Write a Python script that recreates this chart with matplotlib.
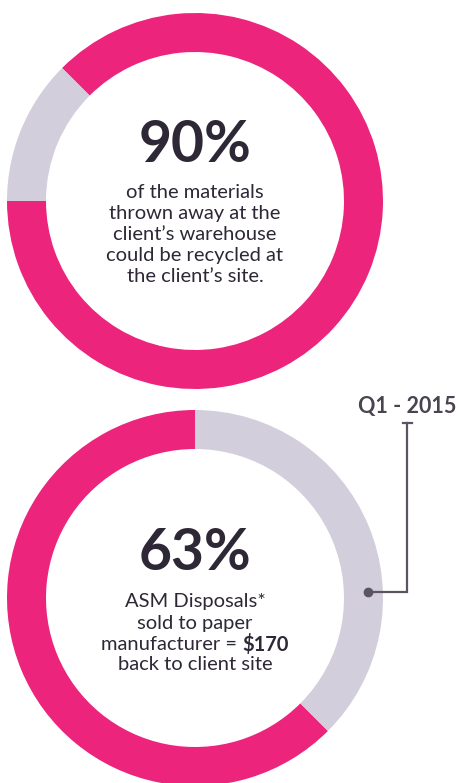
import matplotlib
matplotlib.use("Agg")
import matplotlib.pyplot as plt

# ---- data ----
top_labels = ["recyclable", "other"]
top_values = [87.5, 12.5]          # visual ring shares
top_big = "90%"
top_lines = ["of the materials", "thrown away at the", "client\u2019s warehouse",
             "could be recycled at", "the client\u2019s site."]

bot_labels = ["sold", "other"]
bot_values = [62.5, 37.5]
bot_big = "63%"
bot_lines = ["ASM Disposals*", "sold to paper", "manufacturer = ", "back to client site"]
bot_bold = "\\$170"
callout_label = "Q1 - 2015"

PINK = "#EC247C"
GRAY = "#D3CEDB"
TEXT = "#2E2836"
LINE = "#5C5462"

W, H = 458, 783
fig = plt.figure(figsize=(W / 100, H / 100), dpi=100)
ax = fig.add_axes([0, 0, 1, 1])

R = 188
WIDTH = 39
top_c = (195, H - 201)
bot_c = (195, H - 598)

ax.pie(top_values, colors=[PINK, GRAY], startangle=135, counterclock=False,
       center=top_c, radius=R, wedgeprops=dict(width=WIDTH, linewidth=0))
ax.pie(bot_values, colors=[PINK, GRAY], startangle=-45, counterclock=False,
       center=bot_c, radius=R, wedgeprops=dict(width=WIDTH, linewidth=0))

ax.set_xlim(0, W)
ax.set_ylim(0, H)
ax.set_aspect("auto")
ax.axis("off")

FONT = "Lato"
big_size = 41
body_size = 14.5

# top text
ax.text(195, H - 146, top_big, ha="center", va="center", fontsize=big_size,
        fontweight="bold", color=TEXT, family=FONT)
for i, s in enumerate(top_lines):
    ax.text(195, H - (193 + 21 * i), s, ha="center", va="center",
            fontsize=body_size, color=TEXT, family=FONT)

# bottom text
ax.text(195, H - 553, bot_big, ha="center", va="center", fontsize=big_size,
        fontweight="bold", color=TEXT, family=FONT)
ys = [601, 623, 644, 665]
for i, s in enumerate(bot_lines):
    if i == 2:
        continue
    ax.text(195, H - ys[i], s, ha="center", va="center",
            fontsize=body_size, color=TEXT, family=FONT)

# mixed line
fig.canvas.draw()
r = fig.canvas.get_renderer()
t1 = ax.text(0, H - ys[2], bot_lines[2], ha="left", va="center",
             fontsize=body_size, color=TEXT, family=FONT)
t2 = ax.text(0, H - ys[2], bot_bold, ha="left", va="center",
             fontsize=body_size, color=TEXT, family=FONT, fontweight="bold")
w1 = t1.get_window_extent(r).width
w2 = t2.get_window_extent(r).width
x0 = 195 - (w1 + w2) / 2
t1.set_x(x0)
t2.set_x(x0 + w1)

# callout
dot = (368, H - 592)
elbow_x = 407
top_y = H - 423
ax.plot([dot[0], elbow_x, elbow_x], [dot[1], dot[1], top_y], color=LINE, lw=1.6,
        solid_joinstyle="miter")
ax.plot([elbow_x - 4.5, elbow_x + 4.5], [top_y, top_y], color=LINE, lw=1.6)
ax.plot([dot[0]], [dot[1]], "o", color=LINE, markersize=6)
ax.text(407, H - 407, callout_label, ha="center", va="center", fontsize=15.5,
        fontweight="bold", color="#4A4450", family=FONT)

fig.savefig("out.png", dpi=100, facecolor="white")
